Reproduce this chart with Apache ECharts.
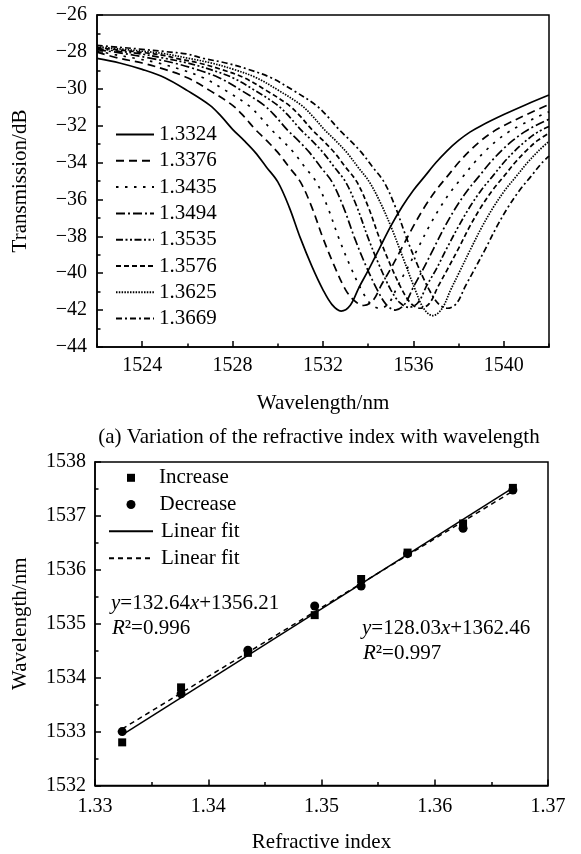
<!DOCTYPE html>
<html><head><meta charset="utf-8">
<script src="https://cdn.jsdelivr.net/npm/echarts@6/dist/echarts.min.js"></script>
<style>html,body{margin:0;padding:0;background:#fff}#c{width:581px;height:854px}</style>
</head><body><div id="c"></div>
<script>
const FONT = 'Liberation Serif';

// ---- Top chart: transmission spectra ----
const riNames = ['1.3324','1.3376','1.3435','1.3494','1.3535','1.3576','1.3625','1.3669'];
const xTickLabels = [1524, 1528, 1532, 1536, 1540];
const curve13324 = [[1522,-28.35],[1523,-28.6],[1524,-28.95],[1525,-29.4],[1526,-30.1],[1527,-30.9],[1527.5,-31.5],[1528,-32.2],[1528.5,-32.8],[1529,-33.45],[1529.5,-34.25],[1530,-35.05],[1530.5,-36.4],[1531,-38.1],[1531.5,-39.6],[1532,-40.9],[1532.4,-41.7],[1532.8,-42.05],[1533.2,-41.75],[1533.6,-40.75],[1534,-39.85],[1534.5,-38.65],[1535,-37.45],[1535.5,-36.4],[1536,-35.5],[1536.5,-34.75],[1537,-34.0],[1537.5,-33.35],[1538,-32.8],[1538.5,-32.35],[1539,-32.0],[1540,-31.4],[1541,-30.85],[1542,-30.34]];
const curve13376 = [[1522,-28.02],[1523,-28.35],[1524,-28.6],[1525,-28.95],[1526,-29.4],[1527,-30.1],[1528,-30.9],[1528.5,-31.5],[1529,-32.2],[1529.5,-32.8],[1530,-33.45],[1530.5,-34.25],[1531,-35.05],[1531.5,-36.4],[1532,-38.1],[1532.5,-39.6],[1533,-40.9],[1533.4,-41.5],[1533.8,-41.75],[1534.2,-41.5],[1534.6,-40.6],[1535,-39.75],[1535.5,-38.6],[1536,-37.45],[1536.5,-36.4],[1537,-35.5],[1537.5,-34.75],[1538,-34.0],[1538.5,-33.35],[1539,-32.8],[1539.5,-32.35],[1540,-32.0],[1541,-31.4],[1542,-30.85]];
const curve13435 = [[1522,-27.95],[1522.8,-28.15],[1523.7,-28.35],[1524.7,-28.6],[1525.7,-28.95],[1526.7,-29.4],[1527.7,-30.1],[1528.7,-30.9],[1529.2,-31.5],[1529.7,-32.2],[1530.2,-32.8],[1530.7,-33.45],[1531.2,-34.25],[1531.7,-35.05],[1532.2,-36.4],[1532.7,-38.1],[1533.2,-39.6],[1533.7,-40.9],[1534.1,-41.65],[1534.5,-41.9],[1534.9,-41.65],[1535.3,-40.7],[1535.7,-39.8],[1536.2,-38.65],[1536.7,-37.45],[1537.2,-36.4],[1537.7,-35.5],[1538.2,-34.75],[1538.7,-34.0],[1539.2,-33.35],[1539.7,-32.8],[1540.2,-32.35],[1540.7,-32.0],[1541.7,-31.4],[1542,-31.25]];
const curve13494 = [[1522,-27.88],[1523,-28.05],[1524.4,-28.35],[1525.4,-28.6],[1526.4,-28.95],[1527.4,-29.4],[1528.4,-30.1],[1529.4,-30.9],[1529.9,-31.5],[1530.4,-32.2],[1530.9,-32.8],[1531.4,-33.45],[1531.9,-34.25],[1532.4,-35.05],[1532.9,-36.4],[1533.4,-38.1],[1533.9,-39.6],[1534.4,-40.9],[1534.8,-41.7],[1535.2,-42.0],[1535.6,-41.7],[1536.0,-40.75],[1536.4,-39.85],[1536.9,-38.65],[1537.4,-37.45],[1537.9,-36.4],[1538.4,-35.5],[1538.9,-34.75],[1539.4,-34.0],[1539.9,-33.35],[1540.4,-32.8],[1540.9,-32.35],[1541.4,-32.0],[1542,-31.65]];
const curve13535 = [[1522,-27.82],[1523,-27.97],[1524,-28.12],[1525,-28.35],[1526,-28.6],[1527,-28.95],[1528,-29.4],[1529,-30.1],[1530,-30.9],[1530.5,-31.5],[1531,-32.2],[1531.5,-32.8],[1532,-33.45],[1532.5,-34.25],[1533,-35.05],[1533.5,-36.4],[1534,-38.1],[1534.5,-39.6],[1535,-40.9],[1535.4,-41.6],[1535.8,-41.85],[1536.2,-41.6],[1536.6,-40.65],[1537,-39.8],[1537.5,-38.6],[1538,-37.45],[1538.5,-36.4],[1539,-35.5],[1539.5,-34.75],[1540,-34.0],[1540.5,-33.35],[1541,-32.8],[1541.5,-32.35],[1542,-32.05]];
const curve13576 = [[1522,-27.77],[1523,-27.9],[1524,-28.03],[1525,-28.2],[1525.5,-28.35],[1526.5,-28.6],[1527.5,-28.95],[1528.5,-29.4],[1529.5,-30.1],[1530.5,-30.9],[1531,-31.5],[1531.5,-32.2],[1532,-32.8],[1532.5,-33.45],[1533,-34.25],[1533.5,-35.05],[1534,-36.4],[1534.5,-38.1],[1535,-39.6],[1535.5,-40.9],[1535.9,-41.65],[1536.3,-41.9],[1536.7,-41.65],[1537.1,-40.7],[1537.5,-39.8],[1538,-38.65],[1538.5,-37.45],[1539,-36.4],[1539.5,-35.5],[1540,-34.75],[1540.5,-34.0],[1541,-33.35],[1541.5,-32.8],[1542,-32.4]];
const curve13625 = [[1522,-27.72],[1523,-27.84],[1524,-27.96],[1525,-28.1],[1526.05,-28.35],[1527.05,-28.6],[1528.05,-28.95],[1529.05,-29.4],[1530.05,-30.1],[1531.05,-30.9],[1531.55,-31.5],[1532.05,-32.2],[1532.55,-32.8],[1533.05,-33.45],[1533.55,-34.25],[1534.05,-35.05],[1534.55,-36.2],[1535.05,-37.6],[1535.55,-39.2],[1536.05,-40.8],[1536.45,-41.9],[1536.85,-42.3],[1537.25,-41.95],[1537.65,-40.9],[1538.05,-39.9],[1538.55,-38.65],[1539.05,-37.45],[1539.55,-36.4],[1540.05,-35.5],[1540.55,-34.75],[1541.05,-34.0],[1541.55,-33.35],[1542,-32.85]];
const curve13669 = [[1522,-27.65],[1523,-27.75],[1524,-27.86],[1525,-27.98],[1526,-28.12],[1526.7,-28.35],[1527.7,-28.6],[1528.7,-28.95],[1529.7,-29.4],[1530.7,-30.1],[1531.7,-30.9],[1532.2,-31.5],[1532.7,-32.2],[1533.2,-32.8],[1533.7,-33.45],[1534.2,-34.25],[1534.7,-35.05],[1535.2,-36.4],[1535.7,-38.1],[1536.2,-39.6],[1536.7,-40.9],[1537.1,-41.65],[1537.5,-41.9],[1537.9,-41.65],[1538.3,-40.7],[1538.7,-39.8],[1539.2,-38.65],[1539.7,-37.45],[1540.2,-36.4],[1540.7,-35.5],[1541.2,-34.75],[1541.7,-34.0],[1542,-33.65]];
const curves = [curve13324, curve13376, curve13435, curve13494, curve13535, curve13576, curve13625, curve13669];
const dashes = ['solid', [8,5], [2.5,6.5], [9,3,2,3], [7,2.5,2,2.5,2,2.5], [5,3], [1.5,1.3], [6,3,2,3]];

// ---- Bottom chart: resonance wavelength vs refractive index ----
const refIndex = [1.3324,1.3376,1.3435,1.3494,1.3535,1.3576,1.3625,1.3669];
const increase = [1532.80,1533.82,1534.46,1535.16,1535.83,1536.32,1536.86,1537.52];
const decrease = [1533.00,1533.70,1534.51,1535.33,1535.70,1536.30,1536.77,1537.48];
const fitIncrease = [[1.3324,1532.94],[1.3669,1537.52]];
const fitDecrease = [[1.3324,1533.05],[1.3669,1537.46]];

const txt = {fontFamily: FONT, color: '#000'};
const axLine = {show: true, lineStyle: {color: '#000', width: 1.5}};
const tickStyle = {color: '#000', width: 1.5};

const series = [];
curves.forEach((c, i) => {
  series.push({
    name: riNames[i], type: 'line', xAxisIndex: 0, yAxisIndex: 0,
    data: c, smooth: 0.35, symbol: 'none', silent: true,
    itemStyle: {color: '#000'},
    lineStyle: {color: '#000', width: 1.7, type: dashes[i]}
  });
});
series.push({name: 'Increase', type: 'scatter', xAxisIndex: 2, yAxisIndex: 1, symbol: 'rect', symbolSize: 8,
  itemStyle: {color: '#000', opacity: 1}, data: refIndex.map((x, i) => [x, increase[i]]), z: 5});
series.push({name: 'Decrease', type: 'scatter', xAxisIndex: 2, yAxisIndex: 1, symbol: 'circle', symbolSize: 9,
  itemStyle: {color: '#000', opacity: 1}, data: refIndex.map((x, i) => [x, decrease[i]]), z: 5});
series.push({name: 'Linear fit', type: 'line', xAxisIndex: 2, yAxisIndex: 1, symbol: 'none',
  itemStyle: {color: '#000'}, lineStyle: {color: '#000', width: 1.5, type: 'solid'}, data: fitIncrease});
series.push({name: 'Linear fit 2', type: 'line', xAxisIndex: 2, yAxisIndex: 1, symbol: 'none',
  itemStyle: {color: '#000'}, lineStyle: {color: '#000', width: 1.5, type: [5,4]}, data: fitDecrease});

const legTxt = {...txt, fontSize: 21, lineHeight: 20};
const option = {
  animation: false,
  backgroundColor: '#fff',
  grid: [
    {left: 97, top: 15, width: 452, height: 332, show: true, borderColor: '#000', borderWidth: 1.5, backgroundColor: 'transparent'},
    {left: 95, top: 462, width: 453, height: 323.5, show: true, borderColor: '#000', borderWidth: 1.5, backgroundColor: 'transparent'}
  ],
  xAxis: [
    {gridIndex: 0, type: 'value', min: 1522, max: 1542, position: 'bottom',
     name: 'Wavelength/nm', nameLocation: 'middle', nameGap: 46, nameTextStyle: {...txt, fontSize: 21},
     axisLine: axLine,
     axisTick: {show: true, inside: true, length: 6, customValues: xTickLabels, lineStyle: tickStyle},
     axisLabel: {...txt, fontSize: 20, margin: 9, customValues: xTickLabels, formatter: v => String(v)},
     splitLine: {show: false}},
    {gridIndex: 0, type: 'value', min: 1522, max: 1542, interval: 2, position: 'bottom',
     axisLine: {show: false}, axisLabel: {show: false}, splitLine: {show: false},
     axisTick: {show: true, inside: true, length: 3.5, lineStyle: tickStyle}},
    {gridIndex: 1, type: 'value', min: 1.33, max: 1.37, interval: 0.01,
     name: 'Refractive index', nameLocation: 'middle', nameGap: 46, nameTextStyle: {...txt, fontSize: 21},
     axisLine: axLine,
     axisTick: {show: true, inside: true, length: 6, lineStyle: tickStyle},
     minorTick: {show: true, splitNumber: 2, length: 3.5, lineStyle: tickStyle},
     axisLabel: {...txt, fontSize: 20, margin: 11, formatter: v => v.toFixed(2)},
     splitLine: {show: false}}
  ],
  yAxis: [
    {gridIndex: 0, type: 'value', min: -44, max: -26, interval: 2,
     name: 'Transmission/dB', nameLocation: 'middle', nameGap: 66, nameTextStyle: {...txt, fontSize: 21},
     axisLine: axLine,
     axisTick: {show: true, inside: true, length: 6, lineStyle: tickStyle},
     minorTick: {show: true, splitNumber: 2, length: 3.5, lineStyle: tickStyle},
     axisLabel: {...txt, fontSize: 20, margin: 10, formatter: v => (v < 0 ? '\u2212' + Math.abs(v) : String(v))},
     splitLine: {show: false}},
    {gridIndex: 1, type: 'value', min: 1532, max: 1538, interval: 1,
     name: 'Wavelength/nm', nameLocation: 'middle', nameGap: 64, nameTextStyle: {...txt, fontSize: 21},
     axisLine: axLine,
     axisTick: {show: true, inside: true, length: 6, lineStyle: tickStyle},
     minorTick: {show: true, splitNumber: 2, length: 3.5, lineStyle: tickStyle},
     axisLabel: {...txt, fontSize: 20, margin: 9, formatter: v => String(v)},
     splitLine: {show: false}}
  ],
  legend: [
    {data: riNames, orient: 'vertical', left: 115, top: 124, padding: 0, itemWidth: 38, itemHeight: 8, itemGap: 5.3,
     selectedMode: false, itemStyle: {opacity: 0}, textStyle: legTxt},
    {data: ['Increase'], orient: 'vertical', left: 127, top: 467.3, padding: 0, itemWidth: 8, itemHeight: 8,
     selectedMode: false, itemStyle: {opacity: 1}, textStyle: {...legTxt, padding: [0, 0, 0, 19]}},
    {data: ['Decrease'], orient: 'vertical', left: 126.5, top: 494, padding: 0, itemWidth: 9, itemHeight: 9,
     selectedMode: false, itemStyle: {opacity: 1}, textStyle: {...legTxt, padding: [0, 0, 0, 19]}},
    {data: ['Linear fit', 'Linear fit 2'], orient: 'vertical', left: 108, top: 520.7, padding: 0,
     itemWidth: 44, itemHeight: 8, itemGap: 6, selectedMode: false, itemStyle: {opacity: 0},
     formatter: n => (n.indexOf('Linear fit') === 0 ? 'Linear fit' : n),
     textStyle: {...legTxt, padding: [0, 0, 0, 3]}}
  ],
  graphic: [
    {type: 'text', x: 319, y: 437, style: {text: '(a) Variation of the refractive index with wavelength', font: '21px "Liberation Serif"', fill: '#000', align: 'center', verticalAlign: 'middle'}},
    {type: 'text', x: 111, y: 603, style: {text: '{i|y}=132.64{i|x}+1356.21', font: '21px "Liberation Serif"', fill: '#000', verticalAlign: 'middle',
      rich: {i: {fontStyle: 'italic', fontFamily: FONT, fontSize: 21}}}},
    {type: 'text', x: 112, y: 628, style: {text: '{i|R}\u00B2=0.996', font: '21px "Liberation Serif"', fill: '#000', verticalAlign: 'middle',
      rich: {i: {fontStyle: 'italic', fontFamily: FONT, fontSize: 21}}}},
    {type: 'text', x: 362, y: 628, style: {text: '{i|y}=128.03{i|x}+1362.46', font: '21px "Liberation Serif"', fill: '#000', verticalAlign: 'middle',
      rich: {i: {fontStyle: 'italic', fontFamily: FONT, fontSize: 21}}}},
    {type: 'text', x: 363, y: 653, style: {text: '{i|R}\u00B2=0.997', font: '21px "Liberation Serif"', fill: '#000', verticalAlign: 'middle',
      rich: {i: {fontStyle: 'italic', fontFamily: FONT, fontSize: 21}}}}
  ],
  series: series
};
const chart = echarts.init(document.getElementById('c'), null, {renderer: 'canvas'});
chart.setOption(option);
</script></body></html>
